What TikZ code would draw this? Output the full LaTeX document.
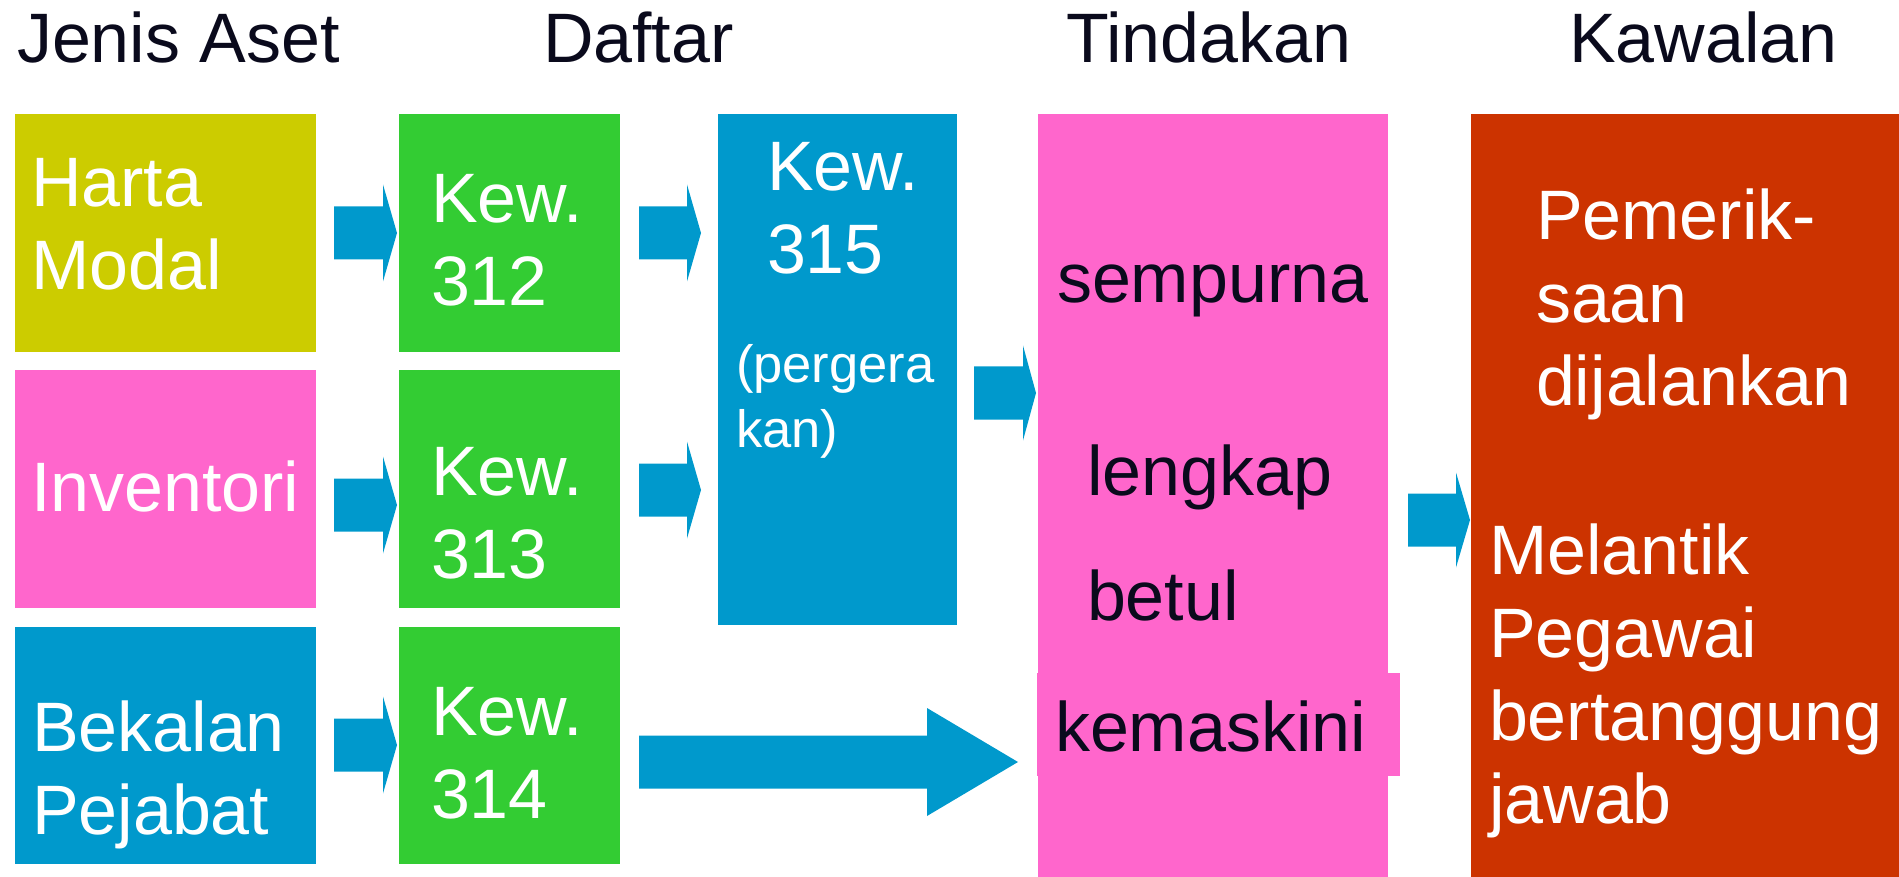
\documentclass[tikz,border=0pt]{standalone}
\usepackage{fontspec}
\setmainfont{Liberation Sans}
\usetikzlibrary{calc}
\definecolor{olivec}{HTML}{CCCC00}
\definecolor{pinkc}{HTML}{FF66CC}
\definecolor{greenc}{HTML}{33CC33}
\definecolor{bluec}{HTML}{0099CC}
\definecolor{redc}{HTML}{CC3300}
\definecolor{inkc}{RGB}{10,10,28}
\newcommand\hugetxt{\fontsize{70}{83}\selectfont}
\newcommand\midtxt{\fontsize{52.5}{65}\selectfont}
% #1 from node, #2 to node, #3 start gap, #4 end gap, #5 centre y, #6 head length, #7 shaft half width, #8 head half width
\newcommand\blockarr[8]{%
  \fill[bluec] let \p1=(#1.east), \p2=(#2.west) in
    (\x1+#3pt,-#5pt+#7pt) -- (\x2-#4pt-#6pt,-#5pt+#7pt) -- (\x2-#4pt-#6pt,-#5pt+#8pt)
    -- (\x2-#4pt,-#5pt) -- (\x2-#4pt-#6pt,-#5pt-#8pt) -- (\x2-#4pt-#6pt,-#5pt-#7pt)
    -- (\x1+#3pt,-#5pt-#7pt) -- cycle;}
\tikzset{
  box/.style={rectangle, inner sep=0pt, outer sep=0pt, anchor=north west, draw=none},
  wtxt/.style={anchor=base west, inner sep=0pt, outer sep=0pt, align=left, font=\hugetxt, text=white},
  btxt/.style={anchor=base west, inner sep=0pt, outer sep=0pt, align=left, font=\hugetxt, text=inkc},
}
\begin{document}
\begin{tikzpicture}[x=1pt,y=-1pt]
\useasboundingbox (0,0) rectangle (1899,877);
% headers
\node[btxt] (h1) at (17,63) {Jenis Aset};
\node[btxt] (h2) at (543,63) {Daftar};
\node[btxt] (h3) at (1066,63) {Tindakan};
\node[btxt] (h4) at (1569,63) {Kawalan};
% column 1
\node[box, fill=olivec, minimum width=301.5pt, minimum height=238pt] (hm) at (14.5,114) {};
\node[box, fill=pinkc, minimum width=301.5pt, minimum height=238pt] (inv) at (14.5,370) {};
\node[box, fill=bluec, minimum width=301.5pt, minimum height=237pt] (bek) at (14.5,627) {};
% column 2
\node[box, fill=greenc, minimum width=221pt, minimum height=238pt] (k312) at (399,114) {};
\node[box, fill=greenc, minimum width=221pt, minimum height=238pt] (k313) at (399,370) {};
\node[box, fill=greenc, minimum width=221pt, minimum height=237pt] (k314) at (399,627) {};
% column 3
\node[box, fill=bluec, minimum width=239pt, minimum height=511pt] (k315) at (718,114) {};
% column 4
\node[box, fill=pinkc, minimum width=350pt, minimum height=763pt] (tind) at (1038,114) {};
\node[box, fill=pinkc, minimum width=363pt, minimum height=103pt] (tindk) at (1037,673) {};
% column 5
\node[box, fill=redc, minimum width=428pt, minimum height=763pt] (kaw) at (1471,114) {};
% texts (multi-line nodes are placed by the baseline of their last line)
\node[wtxt] (t1) at (31,290) {Harta\\Modal};
\node[wtxt] (t2) at (31,511) {Inventori};
\node[wtxt] (t3) at (32,834) {Bekalan\\Pejabat};
\node[wtxt] (t4) at (431,306) {Kew.\\312};
\node[wtxt] (t5) at (431,578) {Kew.\\313};
\node[wtxt] (t6) at (431,818) {Kew.\\314};
\node[wtxt] (t7) at (767,274) {Kew.\\315};
\node[wtxt, font=\midtxt] (t8) at (736,447) {(pergera\\kan)};
\node[btxt] (t9) at (1057,303) {sempurna};
\node[btxt] (t10) at (1087,495) {lengkap};
\node[btxt] (t11) at (1087,620) {betul};
\node[btxt] (t12) at (1055,751) {kemaskini};
\node[wtxt] (t13) at (1536,405) {Pemerik-\\saan\\dijalankan};
\node[wtxt] (t14) at (1489,823) {Melantik\\Pegawai\\bertanggung\\jawab};
% arrows
\blockarr{hm}{k312}{18}{2}{233}{14}{26.5}{48.5}
\blockarr{k312}{k315}{19}{17}{233}{14}{26.5}{48.5}
\blockarr{inv}{k313}{18}{2}{505}{14}{26.5}{48.5}
\blockarr{k313}{k315}{19}{17}{490}{14}{26.5}{48.5}
\blockarr{bek}{k314}{18}{2}{745}{14}{26.5}{48.5}
\blockarr{k314}{tind}{19}{20}{762}{91}{26.5}{54}
\blockarr{k315}{tind}{17}{2}{393}{13}{26.5}{47.5}
\blockarr{tind}{kaw}{20}{1}{520}{14}{26.5}{47.5}
\end{tikzpicture}
\end{document}
